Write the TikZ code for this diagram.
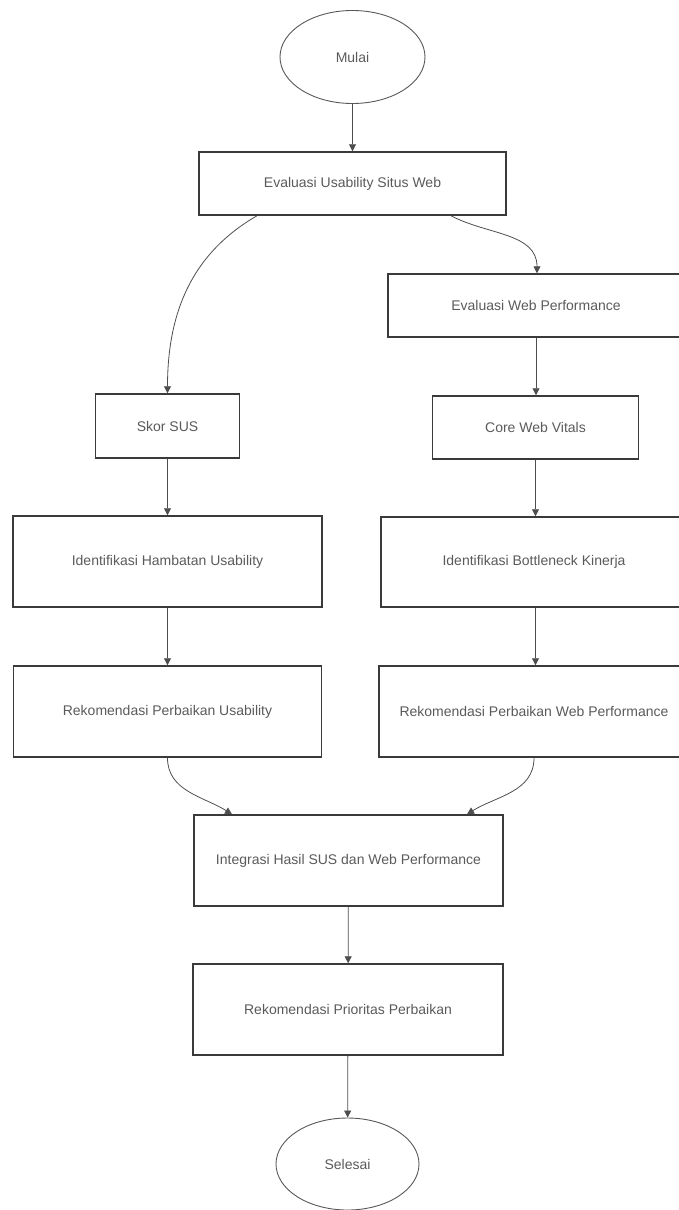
\documentclass[tikz,border=0pt]{standalone}
\usepackage{fontspec}
\setmainfont{Liberation Sans}
\usetikzlibrary{shapes.geometric, arrows.meta}
\definecolor{garis}{HTML}{3A3A3A}
\definecolor{teks}{HTML}{5A5A5A}
\tikzset{
	kotak/.style={draw=garis, line width=1.5pt, text=teks, font=\fontsize{14}{16}\selectfont, inner sep=0pt},
	oval/.style={ellipse, draw=garis!85, line width=0.9pt, text=teks, font=\fontsize{14}{16}\selectfont, inner sep=0pt},
	panah/.style={draw=garis!90, line width=0.8pt, -{Triangle[width=7pt, length=7pt]}}
}
\begin{document}
\begin{tikzpicture}[x=1pt, y=-1pt]
	\useasboundingbox (0,0) rectangle (679,1210);
	
	%Mulai dan Selesai
	\node[oval, minimum width=145pt, minimum height=93pt] (mulai) at (352.5, 57) {Mulai};
	\node[oval, minimum width=143pt, minimum height=92pt] (selesai) at (347.5, 1164) {Selesai};
	
	%Kotak tengah
	\node[kotak, minimum width=307pt, minimum height=63pt] (evalUsab) at (352.5, 183.5) {Evaluasi Usability Situs Web};
	\node[kotak, minimum width=309pt, minimum height=91pt] (integrasi) at (348.5, 860.5) {Integrasi Hasil SUS dan Web Performance};
	\node[kotak, minimum width=310pt, minimum height=91pt] (rekPrio) at (348, 1009.5) {Rekomendasi Prioritas Perbaikan};
	
	%Kolom kiri
	\node[kotak, minimum width=144pt, minimum height=64pt] (skor) at (167.5, 426) {Skor SUS};
	\node[kotak, minimum width=309pt, minimum height=91pt] (idHamb) at (167.5, 561.5) {Identifikasi Hambatan Usability};
	\node[kotak, minimum width=308pt, minimum height=91pt] (rekUsab) at (167.5, 711.5) {Rekomendasi Perbaikan Usability};
	
	%Kolom kanan
	\node[kotak, minimum width=296pt, minimum height=63pt] (evalWeb) at (536, 305.5) {Evaluasi Web Performance};
	\node[kotak, minimum width=206pt, minimum height=63pt] (cwv) at (535.5, 427.5) {Core Web Vitals};
	\node[kotak, minimum width=306pt, minimum height=90pt] (idBott) at (534, 562) {Identifikasi Bottleneck Kinerja};
	\node[kotak, minimum width=310pt, minimum height=91pt] (rekWeb) at (534, 711.5) {Rekomendasi Perbaikan Web Performance};
	
	%Panah
	\draw[panah] (mulai) -- (evalUsab);
	\draw[panah] ([xshift=-95.5pt]evalUsab.south) to[out=210, in=90] (skor.north);
	\draw[panah] ([xshift=98.5pt]evalUsab.south) to[out=-28, in=90] ([xshift=1pt]evalWeb.north);
	\draw[panah] (skor) -- (idHamb);
	\draw[panah] (idHamb) -- (rekUsab);
	\draw[panah] (evalWeb) -- (evalWeb |- cwv.north);
	\draw[panah] (cwv.south) -- (cwv.south |- idBott.north);
	\draw[panah] (idBott.south -| cwv.south) -- (cwv.south |- rekWeb.north);
	\draw[panah] (rekUsab.south) to[out=-90, in=148] ([xshift=-116.5pt]integrasi.north);
	\draw[panah] (rekWeb.south) to[out=-90, in=32] ([xshift=118.5pt]integrasi.north);
	\draw[panah] (integrasi) -- (rekPrio);
	\draw[panah] (rekPrio) -- (selesai);
	
\end{tikzpicture}
\end{document}
